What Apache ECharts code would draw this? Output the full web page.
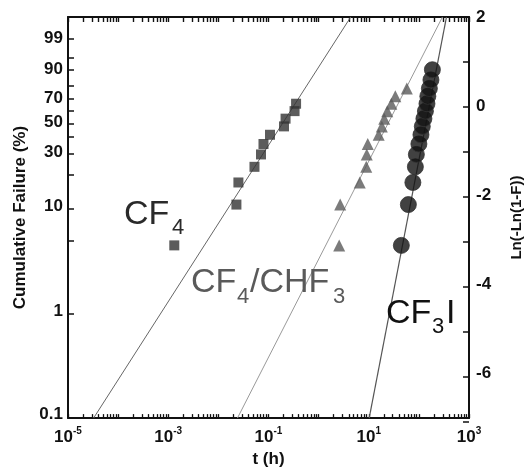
<!DOCTYPE html>
<html><head><meta charset="utf-8">
<script src="https://cdn.jsdelivr.net/npm/echarts@6/dist/echarts.min.js"></script>
<style>html,body{margin:0;padding:0;background:#fff}#c{width:532px;height:473px}</style>
</head><body><div id="c"></div><script>
// ---- data (t in hours, F = cumulative failure in %) ----
const cf4Time = [0.00132, 0.0229, 0.0251, 0.0525, 0.0708, 0.0794, 0.107, 0.204, 0.219, 0.331, 0.355];
const cf4Pct  = [4.3, 10.4, 16.5, 22.6, 28.7, 34.8, 40.9, 47.0, 53.0, 59.1, 65.2];
const mixTime = [2.57, 2.69, 6.61, 8.91, 9.12, 9.55, 15.8, 18.2, 20.4, 23.4, 28.2, 33.9, 57.5];
const mixPct  = [4.3, 10.4, 16.5, 22.6, 28.7, 34.8, 40.9, 47.0, 53.0, 59.1, 65.2, 71.3, 77.4];
const cf3iTime = [44.7, 61.7, 75.9, 85.1, 89.1, 100, 110, 117, 126, 135, 145, 151, 162, 174, 186];
const cf3iPct  = [4.3, 10.4, 16.5, 22.6, 28.7, 34.8, 40.9, 47.0, 53.0, 59.1, 65.2, 71.3, 77.4, 83.5, 89.6];
// fitted Weibull lines (end points)
const cf4FitTime = [3.24e-5, 4.37];
const mixFitTime = [0.024, 295];
const cf3iFitTime = [10.2, 355];
const fitPct = [0.0911, 99.938];
// tick labels
const xLabelExponents = [-5, -3, -1, 1, 3];
const leftLabelPct = [0.1, 1, 10, 30, 50, 70, 90, 99];
const leftTickPct = [0.1, 1, 5, 10, 20, 30, 40, 50, 60, 70, 80, 90, 95, 99];
const rightLabels = [-6, -4, -2, 0, 2];
const rightTicks = [-7, -6, -5, -4, -3, -2, -1, 0, 1, 2];

const weib = p => Math.log(-Math.log(1 - p / 100));
const pts = (t, f) => t.map((v, i) => [Math.log10(v), weib(f[i])]);

const allX = [];
for (let e = -5; e <= 3; e++) { allX.push(e); if (e < 3) for (let k = 2; k <= 9; k++) allX.push(e + Math.log10(k)); }

const FONT = '"Liberation Sans", Arial, sans-serif';
const lbl = {fontFamily: FONT, fontWeight: 'bold', fontSize: 17, color: '#111'};
const AX = '#111';
const leftLabelW = leftLabelPct.map(weib);
const leftTickW = leftTickPct.map(weib);

// main plot: grid 0. Helper grids 1-3 sit just outside the plot edges so that their
// outward ticks point into the plot (inward ticks on left, right and top sides).
const grids = [
  {left: 68, right: 63, top: 17, bottom: 51},
  {left: 0, width: 68, top: 17, bottom: 51},
  {left: 469, right: 0, top: 17, bottom: 51},
  {left: 68, right: 63, top: 0, height: 17}
];

const hidden = g => ({gridIndex: g, type: 'value', show: false, min: 0, max: 1,
  axisLine: {show: false, onZero: false}});

const xAxes = [
  {
    gridIndex: 0, type: 'value', min: -5, max: 3, interval: 1, position: 'bottom',
    axisLine: {show: true, onZero: false, lineStyle: {color: AX, width: 2}},
    axisTick: {show: true, inside: true, length: 4, customValues: allX, lineStyle: {color: AX, width: 1.3}},
    splitLine: {show: false},
    axisLabel: {
      show: true, margin: 8,
      customValues: xLabelExponents,
      formatter: v => '{b|10}{e|' + v + '}',
      rich: {
        b: {fontFamily: FONT, fontWeight: 'bold', fontSize: 17, color: '#111', lineHeight: 20, verticalAlign: 'bottom'},
        e: {fontFamily: FONT, fontWeight: 'bold', fontSize: 10, color: '#111', lineHeight: 12, verticalAlign: 'top'}
      }
    },
    name: 't (h)', nameLocation: 'middle', nameGap: 32,
    nameTextStyle: {fontFamily: FONT, fontWeight: 'bold', fontSize: 17, color: '#111'}
  },
  {
    gridIndex: 0, type: 'value', min: -5, max: 3, interval: 1, position: 'top',
    axisLine: {show: true, onZero: false, lineStyle: {color: AX, width: 2}},
    axisTick: {show: false}, axisLabel: {show: false}, splitLine: {show: false}
  },
  hidden(1), hidden(2),
  {
    gridIndex: 3, type: 'value', min: -5, max: 3, position: 'bottom',
    axisLine: {show: false, onZero: false},
    axisTick: {show: true, inside: false, length: 5, customValues: allX, lineStyle: {color: AX, width: 1.4}},
    axisLabel: {show: false}, splitLine: {show: false}
  }
];

const yAxes = [
  {
    gridIndex: 0, type: 'value', min: -7, max: 2, position: 'left',
    axisLine: {show: true, onZero: false, lineStyle: {color: AX, width: 2}},
    axisTick: {show: false},
    axisLabel: Object.assign({margin: 5, customValues: leftLabelW,
      formatter: v => {
        let best = 0;
        leftLabelW.forEach((w, i) => { if (Math.abs(w - v) < Math.abs(leftLabelW[best] - v)) best = i; });
        return String(leftLabelPct[best]);
      }}, lbl),
    splitLine: {show: false},
    name: 'Cumulative Failure (%)', nameLocation: 'middle', nameGap: 34,
    nameTextStyle: {fontFamily: FONT, fontWeight: 'bold', fontSize: 17, color: '#111'}
  },
  {
    gridIndex: 0, type: 'value', min: -7, max: 2, interval: 1, position: 'right',
    axisLine: {show: true, onZero: false, lineStyle: {color: AX, width: 2}},
    axisTick: {show: false},
    axisLabel: Object.assign({margin: 7, customValues: rightLabels}, lbl),
    splitLine: {show: false},
    name: 'Ln(-Ln(1-F))', nameLocation: 'middle', nameGap: 40, nameRotate: 90,
    nameTextStyle: {fontFamily: FONT, fontWeight: 'bold', fontSize: 15, color: '#111'}
  },
  {
    gridIndex: 1, type: 'value', min: -7, max: 2, position: 'right',
    axisLine: {show: false, onZero: false},
    axisTick: {show: true, inside: false, length: 6, customValues: leftTickW, lineStyle: {color: AX, width: 1.5}},
    axisLabel: {show: false}, splitLine: {show: false}
  },
  {
    gridIndex: 2, type: 'value', min: -7, max: 2, position: 'left',
    axisLine: {show: false, onZero: false},
    axisTick: {show: true, inside: false, length: 6, customValues: rightTicks, lineStyle: {color: AX, width: 1.5}},
    axisLabel: {show: false}, splitLine: {show: false}
  },
  hidden(3)
];

// annotation texts (title components, one per text piece)
const note = (text, left, top, size, color) => ({
  text: text, left: left, top: top, padding: 0,
  textStyle: {fontFamily: FONT, fontWeight: 'normal', fontSize: size, color: color}
});

const option = {
  backgroundColor: '#fff',
  animation: false,
  title: [
    note('CF', 124, 198, 34, '#2a2a2a'), note('4', 172, 217, 22, '#2a2a2a'),
    note('CF', 191, 266, 34, '#5a5a5a'), note('4', 237, 286, 22, '#5a5a5a'),
    note('/CHF', 250, 266, 34, '#5a5a5a'), note('3', 333, 286, 22, '#5a5a5a'),
    note('CF', 386, 297, 34, '#111'), note('3', 432, 316, 22, '#111'), note('I', 446, 297, 34, '#111')
  ],
  grid: grids,
  xAxis: xAxes,
  yAxis: yAxes,
  series: [
    {type: 'line', xAxisIndex: 0, yAxisIndex: 1, data: pts(cf4FitTime, fitPct), symbol: 'none',
     lineStyle: {color: '#666', width: 1}, silent: true, z: 1},
    {type: 'line', xAxisIndex: 0, yAxisIndex: 1, data: pts(mixFitTime, fitPct), symbol: 'none',
     lineStyle: {color: '#999', width: 1}, silent: true, z: 1},
    {type: 'line', xAxisIndex: 0, yAxisIndex: 1, data: pts(cf3iFitTime, fitPct), symbol: 'none',
     lineStyle: {color: '#555', width: 1.2}, silent: true, z: 1},
    {type: 'scatter', name: 'CF4', xAxisIndex: 0, yAxisIndex: 1, data: pts(cf4Time, cf4Pct),
     symbol: 'rect', symbolSize: 10, itemStyle: {color: '#333'}, z: 3},
    {type: 'scatter', name: 'CF4/CHF3', xAxisIndex: 0, yAxisIndex: 1, data: pts(mixTime, mixPct),
     symbol: 'triangle', symbolSize: 12, itemStyle: {color: '#5a5a5a'}, z: 3},
    {type: 'scatter', name: 'CF3I', xAxisIndex: 0, yAxisIndex: 1, data: pts(cf3iTime, cf3iPct),
     symbol: 'circle', symbolSize: 16, itemStyle: {color: '#111', borderColor: '#333', borderWidth: 1}, z: 3}
  ]
};
const chart = echarts.init(document.getElementById('c'), null, {renderer: 'canvas'});
chart.setOption(option);
</script></body></html>
